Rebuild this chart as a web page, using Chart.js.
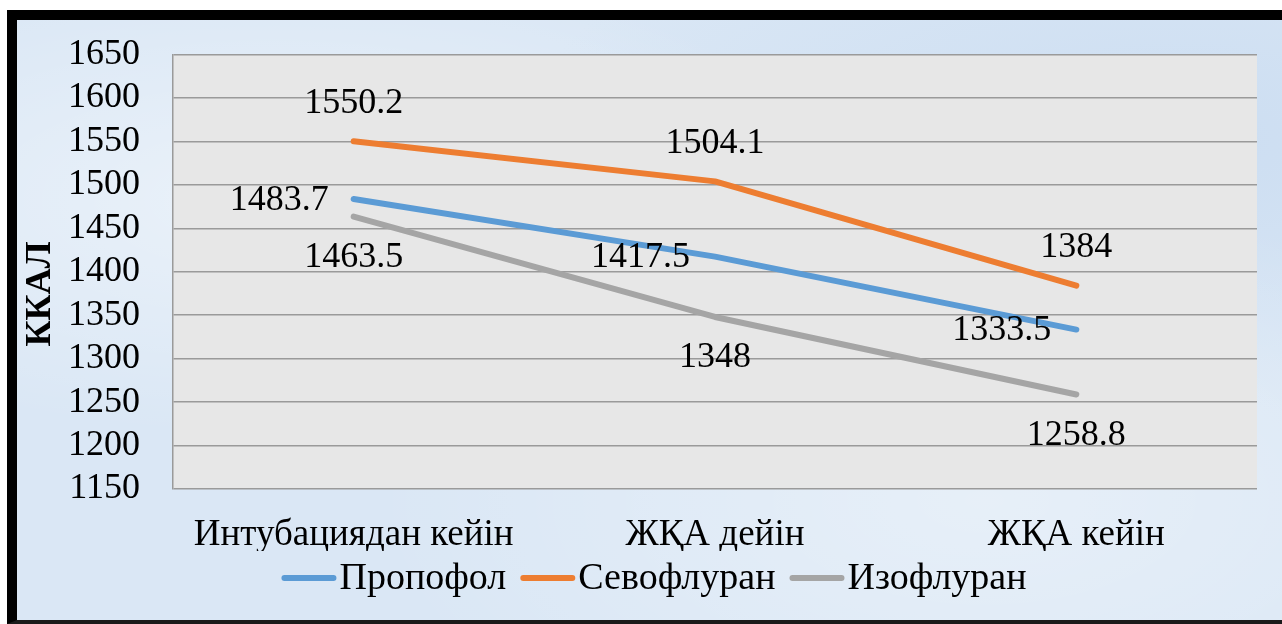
<!DOCTYPE html>
<html>
<head>
<meta charset="utf-8">
<script src="https://cdn.jsdelivr.net/npm/chart.js@4/dist/chart.umd.min.js"></script>
<style>
  body { margin: 0; background: #fff; overflow: hidden; }
  #frame {
    position: absolute; left: 7px; top: 10px;
    width: 1290px; height: 600px;
    border-left: 10px solid #000; border-top: 10px solid #000; border-bottom: 4px solid #1a1a1a;
    background:
      radial-gradient(ellipse at 20% 30%, rgba(255,255,255,0.45), rgba(255,255,255,0) 40%),
      radial-gradient(ellipse at 75% 80%, rgba(255,255,255,0.35), rgba(255,255,255,0) 45%),
      radial-gradient(ellipse at 90% 20%, rgba(190,212,238,0.5), rgba(190,212,238,0) 40%),
      #dae7f5;
  }
  canvas { position: absolute; left: 0; top: 0; }
</style>
</head>
<body>
<div id="frame"></div>
<canvas id="myChart" width="1282" height="624"></canvas>
<script>
// данные графика
var categories = ['Интубациядан кейін', 'ЖҚА дейін', 'ЖҚА кейін'];
var propofol = [1483.7, 1417.5, 1333.5];
var sevofluran = [1550.2, 1504.1, 1384];
var izofluran = [1463.5, 1348, 1258.8];
var yMin = 1150, yMax = 1650, yStep = 50;
var yTitle = 'ККАЛ';

var serif = "'Liberation Serif', 'Times New Roman', serif";

// серый фон области построения
var plotBg = {
    id: 'plotBg',
    beforeDraw: function(chart) {
        var a = chart.chartArea, ctx = chart.ctx;
        ctx.save();
        ctx.fillStyle = '#e7e7e7';
        ctx.fillRect(a.left, a.top, a.right - a.left, a.bottom - a.top);
        ctx.restore();
    }
};

// подписи значений возле точек
var valueLabels = {
    id: 'valueLabels',
    afterDatasetsDraw: function(chart) {
        var ctx = chart.ctx;
        ctx.save();
        ctx.font = '36px ' + serif;
        ctx.fillStyle = '#000';
        chart.data.datasets.forEach(function(ds, i) {
            var meta = chart.getDatasetMeta(i);
            meta.data.forEach(function(pt, j) {
                var txt = String(ds.data[j]);
                var x = pt.x, y = pt.y;
                ctx.textBaseline = 'middle';
                if (ds.labelPos === 'left') {
                    ctx.textAlign = 'right';
                    ctx.fillText(txt, x - 25, y + 1);
                } else if (ds.labelPos === 'top') {
                    ctx.textAlign = 'center';
                    ctx.fillText(txt, x, y - 38);
                } else {
                    ctx.textAlign = 'center';
                    ctx.fillText(txt, x, y + 41);
                }
            });
        });
        ctx.restore();
    }
};

// подпись оси Y
var axisTitle = {
    id: 'axisTitle',
    afterDraw: function(chart) {
        var ctx = chart.ctx;
        ctx.save();
        ctx.translate(41, 294);
        ctx.rotate(-Math.PI / 2);
        ctx.font = 'bold 36px ' + serif;
        ctx.fillStyle = '#000';
        ctx.textAlign = 'center';
        ctx.textBaseline = 'middle';
        ctx.fillText(yTitle, 0, 0);
        ctx.restore();
    }
};

// легенда: линия и текст вплотную
var lineLegend = {
    id: 'lineLegend',
    afterDraw: function(chart) {
        var ctx = chart.ctx;
        var lineLen = 55, gap = 3, itemGap = 14;
        var cy = 578;
        ctx.save();
        ctx.font = '38px ' + serif;
        var items = chart.data.datasets.map(function(ds) {
            return { ds: ds, w: ctx.measureText(ds.label).width };
        });
        var total = 0;
        items.forEach(function(it, i) {
            total += lineLen + gap + it.w + (i > 0 ? itemGap : 0);
        });
        var x = 654 - total / 2;
        items.forEach(function(it) {
            ctx.strokeStyle = it.ds.borderColor;
            ctx.lineWidth = 6;
            ctx.lineCap = 'round';
            ctx.beginPath();
            ctx.moveTo(x + 3, cy);
            ctx.lineTo(x + lineLen - 3, cy);
            ctx.stroke();
            x += lineLen + gap;
            ctx.fillStyle = '#000';
            ctx.textAlign = 'left';
            ctx.textBaseline = 'middle';
            ctx.fillText(it.ds.label, x, cy + 1);
            x += it.w + itemGap;
        });
        ctx.restore();
    }
};

var ctx = document.getElementById('myChart');

var myChart = new Chart(ctx, {
    type: 'line',
    data: {
        labels: categories,
        datasets: [{
            label: 'Пропофол',
            data: propofol,
            borderColor: '#5b9bd5',
            backgroundColor: '#5b9bd5',
            borderWidth: 6,
            labelPos: 'left'
        }, {
            label: 'Севофлуран',
            data: sevofluran,
            borderColor: '#ed7d31',
            backgroundColor: '#ed7d31',
            borderWidth: 6,
            labelPos: 'top'
        }, {
            label: 'Изофлуран',
            data: izofluran,
            borderColor: '#a5a5a5',
            backgroundColor: '#a5a5a5',
            borderWidth: 6,
            labelPos: 'bottom'
        }]
    },
    options: {
        responsive: false,
        animation: false,
        elements: {
            line: { tension: 0, borderCapStyle: 'round', borderJoinStyle: 'round' },
            point: { radius: 0, hoverRadius: 0 }
        },
        layout: {
            padding: { top: 53, right: 25, left: 17, bottom: 73 }
        },
        plugins: {
            tooltip: { enabled: false },
            legend: { display: false }
        },
        scales: {
            x: {
                offset: true,
                grid: { display: false, drawTicks: false },
                border: { display: false },
                ticks: {
                    color: '#000',
                    padding: 24,
                    maxRotation: 0,
                    font: { family: serif, size: 37 }
                },
                afterFit: function(scale) { scale.height = 62; }
            },
            y: {
                min: yMin,
                max: yMax,
                grid: { color: '#9a9a9a', lineWidth: 1.5, drawTicks: false },
                border: { color: '#9a9a9a', width: 1.5 },
                ticks: {
                    stepSize: yStep,
                    autoSkip: false,
                    color: '#000',
                    padding: 33,
                    font: { family: serif, size: 36 },
                    callback: function(value) { return String(value); }
                },
                afterFit: function(scale) { scale.width = 156; }
            }
        }
    },
    plugins: [plotBg, valueLabels, axisTitle, lineLegend]
});
</script>
</body>
</html>
